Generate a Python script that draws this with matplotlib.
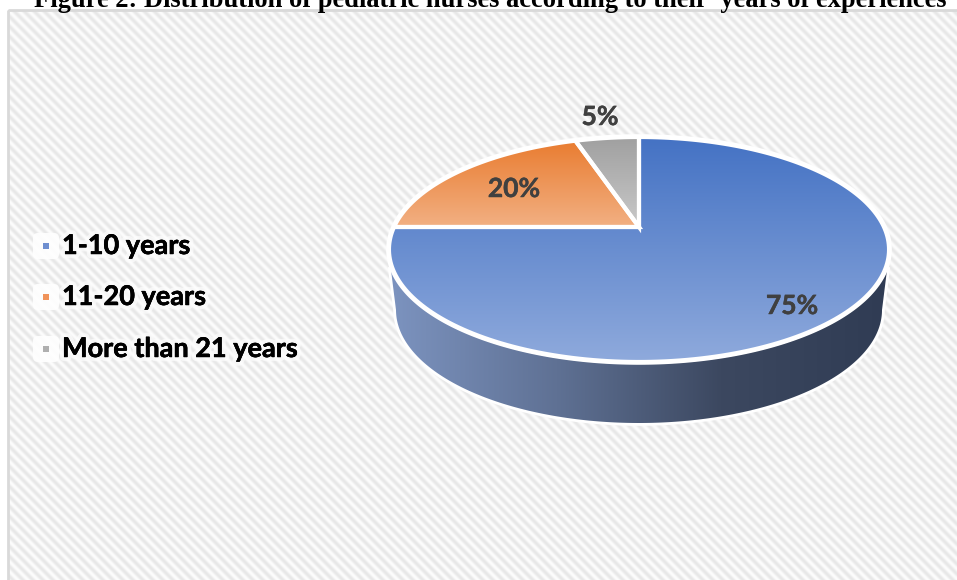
import numpy as np
import matplotlib
matplotlib.use("Agg")
import matplotlib.pyplot as plt
import matplotlib.patheffects as pe
from matplotlib.colors import LinearSegmentedColormap
from matplotlib.patches import Polygon, FancyBboxPatch, Rectangle

title = "Figure 2: Distribution of pediatric nurses according to their  years of experiences"
categories = ["1-10 years", "11-20 years", "More than 21 years"]
shares = [75, 20, 5]
top_colors = ["#4472C4", "#E97C30", "#A0A0A0"]
bottom_colors = ["#8FAADC", "#F2B083", "#C9C9C9"]
marker_colors = ["#6F8FD0", "#F0935A", "#AFAFAF"]
label_xy = [(792, 306), (514, 189), (600, 117)]
legend_y = [246, 297, 349]

W, H = 957, 580
CX = 639


def project(u, v):
    # tilted disc: unit circle to screen pixels, apex lands at (639, 227)
    d = 1 + 0.2 * v
    return CX + 245 * u / d, (227 - 62.6 * v) / d


def wedge_points(start, end):
    t = np.radians(np.linspace(start, end, 200))
    x, y = project(np.sin(t), np.cos(t))
    return np.column_stack([np.r_[CX, x], np.r_[227, y]])


def gradient_fill(ax, points, colors, horizontal=False, zorder=3):
    cmap = LinearSegmentedColormap.from_list("g", colors)
    grad = np.linspace(0, 1, 256).reshape(1, -1) if horizontal else np.linspace(0, 1, 256).reshape(-1, 1)
    x0, y0 = points.min(axis=0)
    x1, y1 = points.max(axis=0)
    im = ax.imshow(grad, cmap=cmap, extent=(x0, x1, y1, y0), aspect="auto", zorder=zorder)
    clip = Polygon(points, closed=True, transform=ax.transData, fc="none", ec="none")
    ax.add_patch(clip)
    im.set_clip_path(clip)


fig = plt.figure(figsize=(W / 100, H / 100), dpi=100, facecolor="white")
ax = fig.add_axes([0, 0, 1, 1])
ax.axis("off")

# striped panel behind everything
xx, yy = np.meshgrid(np.arange(W - 8), np.arange(H - 10))
stripes = 0.945 + 0.04 * np.cos(2 * np.pi * (xx - yy) / 10)
ax.imshow(stripes, cmap="gray", vmin=0, vmax=1, extent=(8, W, H, 10), aspect="auto",
          interpolation="nearest", zorder=0)
ax.add_patch(Rectangle((7.5, 10), W, H, fc="none", ec="#D9D9D9", lw=2, zorder=1))

# side wall of the disc
t = np.radians(np.linspace(270, 90, 300))
low_x = CX + 243 * np.sin(t)
low_y = 310 - 113 * np.cos(t)
wall = np.column_stack([np.r_[391, low_x, 887], np.r_[270, low_y, 270]])
ax.add_patch(Polygon(wall, closed=True, fc="white", ec="white", lw=4, zorder=2))
gradient_fill(ax, wall, ["#7C93BF", "#5F7194", "#3C4860", "#303C54"], horizontal=True)

# top face, wedges run clockwise from twelve o'clock
angles = np.r_[0, np.cumsum(shares)] * 3.6
t = np.radians(np.linspace(0, 360, 500))
rim_x, rim_y = project(np.sin(t), np.cos(t))
ax.add_patch(Polygon(np.column_stack([rim_x, rim_y]), closed=True, fc="white", ec="white", lw=4, zorder=3))
for i, share in enumerate(shares):
    pts = wedge_points(angles[i], angles[i + 1])
    gradient_fill(ax, pts, [top_colors[i], bottom_colors[i]], zorder=4)
    ax.add_patch(Polygon(pts, closed=True, fc="none", ec="white", lw=3, joinstyle="miter", zorder=5))
    ax.text(*label_xy[i], f"{share}%", family="Lato", weight="bold", fontsize=19,
            color="#404040", ha="center", va="center", zorder=6,
            path_effects=[pe.withStroke(linewidth=0.35, foreground="#404040")])

# legend drawn by hand, it has white tiles behind the keys
for name, color, y in zip(categories, marker_colors, legend_y):
    ax.add_patch(FancyBboxPatch((36, y - 10), 20, 20, boxstyle="round,pad=3,rounding_size=5",
                                fc="white", ec="none", alpha=0.9, zorder=2))
    ax.plot([46], [y], marker="s", ms=4.3, color=color, mew=0, zorder=3)
    ax.text(62, y, name, family="Lato", weight="bold", fontsize=19.5, color="black", va="center", zorder=3,
            path_effects=[pe.withStroke(linewidth=6, foreground="white", alpha=0.6),
                          pe.withStroke(linewidth=0.35, foreground="black")])

ax.text(490, 7, title, family="Liberation Serif", weight="bold", fontsize=19.1, color="black",
        ha="center", va="baseline", zorder=7)

ax.set_xlim(0, W)
ax.set_ylim(H, 0)
fig.savefig("out.png", dpi=100)
